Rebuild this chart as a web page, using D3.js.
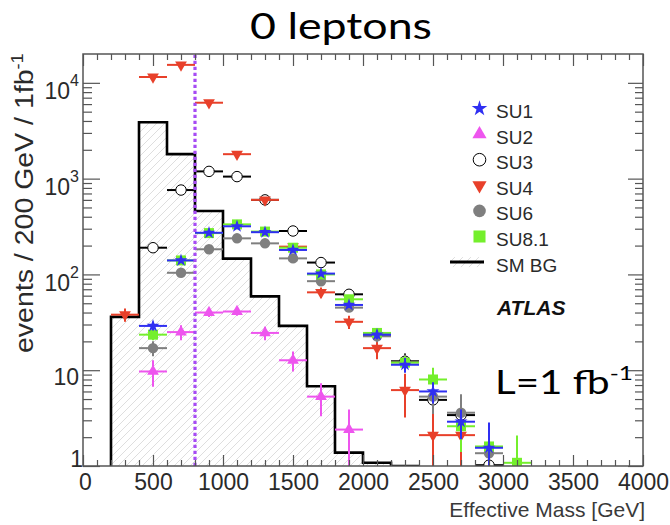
<!DOCTYPE html>
<html>
<head>
<meta charset="utf-8">
<script src="https://cdn.jsdelivr.net/npm/d3@7"></script>
<style>
  body { margin: 0; background: #fff; }
  svg { display: block; }
</style>
</head>
<body>
<svg id="chart" width="670" height="525"></svg>
<script>
// Effective-mass distributions, 0-lepton channel, 200 GeV bins, 1 fb^-1
const binCenters = [300, 500, 700, 900, 1100, 1300, 1500, 1700, 1900, 2100, 2300, 2500, 2700, 2900, 3100];

const su1    = [null, 29, 140, 272, 318, 276, 180, 102, 48, 23.5, 11.4, 6.0, 2.9, 1.55, null];
const su1Err = [null, 3, 6, 8, 9, 8, 7, 5, 3.5, 2.5, 2, 1.5, 1, 1.3, null];

const su2    = [null, 9.7, 25, 40, 41, 24.5, 12.7, 5.3, 2.4, null, null, null, null, null, null];
const su2Err = [null, 3, 4.5, 4, 4, 4, 3, 2, 1.5, null, null, null, null, null, null];

const su3    = [null, 190, 760, 1190, 1050, 600, 284, 133, 62, 23.5, 12.4, 4.9, 3.4, 1.02, null];
const su3Err = [null, 10, 20, 25, 25, 18, 12, 8, 5, 3, 2.5, 2, 2, 1, null];

const su4    = [38, 11500, 15400, 6200, 1800, 600, 195, 65, 32, 17, 6.2, 2.1, 2.1, null, null];
const su4Err = [6, 100, 120, 80, 40, 25, 14, 8, 5, 4, 3, 1.5, 1.5, null, null];

const su6    = [null, 17, 104, 183, 238, 211, 147, 85, 45, 22.6, 12.1, 5.3, 3.6, 1.36, null];
const su6Err = [null, 3, 7, 9, 10, 9, 8, 6, 4, 3, 2.5, 1.8, 2, 1, null];

const su81    = [null, 23.5, 140, 270, 333, 280, 190, 100, 55, 24.5, 12, 8.0, 2.6, 1.6, 1.08];
const su81Err = [null, 3, 6, 8, 9, 8, 7, 5, 4, 3, 2, 2.6, 1.2, 1, 1];

// Standard Model background histogram (bin edges and contents)
const bgEdges  = [200, 400, 600, 800, 1000, 1200, 1400, 1600, 1800, 2000, 2200, 2400];
const bgValues = [36, 3880, 1800, 460, 146, 59, 29, 6.8, 1.38, 1.08, 1.0];

const xTickValues = [0, 500, 1000, 1500, 2000, 2500, 3000, 3500, 4000];
const yTickValues = [1, 10, 100, 1000, 10000];
const legendLabels = ["SU1", "SU2", "SU3", "SU4", "SU6", "SU8.1", "SM BG"];
const cutValue = 800;
const halfBin = 100;

const svg = d3.select("#chart");
const frame = { left: 83, right: 643, top: 54, bottom: 466 };

const x = d3.scaleLinear().domain([0, 4000]).range([frame.left, frame.right]);
const y = d3.scaleLog().domain([1, 2e4]).range([frame.bottom, frame.top]);

const labelFont = "'Liberation Sans', Arial, Helvetica, sans-serif";
const axisColor = "#555";
const textColor = "#2a2a2a";

const defs = svg.append("defs");
defs.append("clipPath").attr("id", "plotClip")
  .append("rect")
  .attr("x", frame.left).attr("y", frame.top)
  .attr("width", frame.right - frame.left).attr("height", frame.bottom - frame.top);

const hatch = defs.append("pattern").attr("id", "hatch")
  .attr("patternUnits", "userSpaceOnUse").attr("width", 8).attr("height", 8);
hatch.append("path")
  .attr("d", "M-1,1 l2,-2 M0,8 l8,-8 M7,9 l2,-2")
  .attr("stroke", "#dedede").attr("stroke-width", 1);

// ---------- background histogram ----------
const plot = svg.append("g").attr("clip-path", "url(#plotClip)");

const histPts = [[x(bgEdges[0]), y(1)]];
bgValues.forEach((v, i) => {
  histPts.push([x(bgEdges[i]), y(v)]);
  histPts.push([x(bgEdges[i + 1]), y(v)]);
});
histPts.push([x(bgEdges[bgEdges.length - 1]), y(1)]);

plot.append("path")
  .attr("d", d3.line()(histPts) + "Z")
  .attr("fill", "url(#hatch)").attr("stroke", "none");
plot.append("path")
  .attr("d", d3.line()(histPts))
  .attr("fill", "none").attr("stroke", "#000").attr("stroke-width", 2.6);

// ---------- cut line ----------
svg.append("line")
  .attr("x1", x(cutValue)).attr("x2", x(cutValue))
  .attr("y1", frame.bottom).attr("y2", frame.top + 1)
  .attr("stroke", "#a64bf4").attr("stroke-width", 3.2)
  .attr("stroke-dasharray", "3.2,2.8");

// ---------- signal points ----------
const symbolDefs = {
  star:    { type: d3.symbolStar, size: 52, rotate: 0 },
  triUp:   { type: d3.symbolTriangle, size: 60, rotate: 0 },
  triDown: { type: d3.symbolTriangle, size: 60, rotate: 180 },
  circle:  { type: d3.symbolCircle, size: 86, rotate: 0 },
  square:  { type: d3.symbolSquare, size: 100, rotate: 0 }
};

const series = {
  SU1:   { values: su1,  errors: su1Err,  symbol: "star",    fill: "#2f2ff2", stroke: "none", bar: "#2f2ff2" },
  SU2:   { values: su2,  errors: su2Err,  symbol: "triUp",   fill: "#ee55ee", stroke: "none", bar: "#ee55ee" },
  SU3:   { values: su3,  errors: su3Err,  symbol: "circle",  fill: "#ffffff", stroke: "#000", bar: "#000" },
  SU4:   { values: su4,  errors: su4Err,  symbol: "triDown", fill: "#e8402a", stroke: "none", bar: "#e8402a" },
  SU6:   { values: su6,  errors: su6Err,  symbol: "circle",  fill: "#7f7f7f", stroke: "none", bar: "#7f7f7f" },
  "SU8.1": { values: su81, errors: su81Err, symbol: "square", fill: "#74ef2c", stroke: "none", bar: "#74ef2c" }
};
const drawOrder = ["SU3", "SU4", "SU2", "SU6", "SU8.1", "SU1"];

function symbolPath(kind, scale) {
  const s = symbolDefs[kind];
  return d3.symbol().type(s.type).size(s.size * (scale || 1))();
}

drawOrder.forEach(name => {
  const s = series[name];
  const pts = binCenters.map((c, i) => ({ c, v: s.values[i], e: s.errors[i] }))
    .filter(p => p.v != null);
  const g = plot.append("g");
  pts.forEach(p => {
    g.append("line")
      .attr("x1", x(p.c - halfBin)).attr("x2", x(p.c + halfBin))
      .attr("y1", y(p.v)).attr("y2", y(p.v))
      .attr("stroke", s.bar).attr("stroke-width", 2);
    const lo = p.v - p.e > 0.5 ? p.v - p.e : 0.5;
    g.append("line")
      .attr("x1", x(p.c)).attr("x2", x(p.c))
      .attr("y1", y(lo)).attr("y2", y(p.v + p.e))
      .attr("stroke", s.bar).attr("stroke-width", 2);
  });
  pts.forEach(p => {
    g.append("path")
      .attr("d", symbolPath(s.symbol))
      .attr("transform", `translate(${x(p.c)},${y(p.v)}) rotate(${symbolDefs[s.symbol].rotate})`)
      .attr("fill", s.fill)
      .attr("stroke", s.stroke).attr("stroke-width", s.stroke === "none" ? 0 : 1);
  });
});

// ---------- axes ----------
const xMinor = d3.range(0, 4001, 100).filter(v => v % 500 !== 0);
const yMinor = [];
for (let k = 0; k <= 4; k++) for (let m = 2; m <= 9; m++) {
  const v = m * Math.pow(10, k);
  if (v < 2e4) yMinor.push(v);
}

function styleAxis(g) {
  g.select(".domain").remove();
  g.selectAll(".tick line").attr("stroke", axisColor).attr("stroke-width", 1.2);
}

svg.append("g").attr("transform", `translate(0,${frame.bottom})`)
  .call(d3.axisBottom(x).tickValues(xMinor).tickSize(-6).tickFormat(""))
  .call(styleAxis);
svg.append("g").attr("transform", `translate(0,${frame.top})`)
  .call(d3.axisTop(x).tickValues(xMinor).tickSize(-6).tickFormat(""))
  .call(styleAxis);
svg.append("g").attr("transform", `translate(0,${frame.top})`)
  .call(d3.axisTop(x).tickValues(xTickValues).tickSize(-12).tickFormat(""))
  .call(styleAxis);

const xAxis = svg.append("g").attr("transform", `translate(0,${frame.bottom})`)
  .call(d3.axisBottom(x).tickValues(xTickValues).tickSize(-11).tickPadding(7).tickFormat(d3.format("d")))
  .call(styleAxis);
xAxis.selectAll(".tick text")
  .attr("font-family", labelFont).attr("font-size", 23).attr("fill", textColor)
  .attr("dy", "0.73em");
xAxis.selectAll(".tick").filter(d => d === 0).select("text").attr("dx", 2);

svg.append("g").attr("transform", `translate(${frame.left},0)`)
  .call(d3.axisLeft(y).tickValues(yMinor).tickSize(-9).tickFormat(""))
  .call(styleAxis);
svg.append("g").attr("transform", `translate(${frame.right},0)`)
  .call(d3.axisRight(y).tickValues(yMinor).tickSize(-8).tickFormat(""))
  .call(styleAxis);
svg.append("g").attr("transform", `translate(${frame.right},0)`)
  .call(d3.axisRight(y).tickValues(yTickValues).tickSize(-15).tickFormat(""))
  .call(styleAxis);

const yAxis = svg.append("g").attr("transform", `translate(${frame.left},0)`)
  .call(d3.axisLeft(y).tickValues(yTickValues).tickSize(-17).tickPadding(4))
  .call(styleAxis);
yAxis.selectAll(".tick text").each(function (d) {
  const t = d3.select(this).text(null)
    .attr("font-family", labelFont).attr("font-size", 23).attr("fill", textColor);
  const k = Math.round(Math.log10(d));
  if (k === 0) {
    t.attr("dy", 0).attr("x", 0).text("1");
  } else if (k === 1) {
    t.attr("dy", 14).text("10");
  } else {
    t.attr("dy", 16);
    t.append("tspan").text("10");
    t.append("tspan").attr("dy", -13).attr("font-size", 16).text(k);
  }
});

// frame
svg.append("rect")
  .attr("x", frame.left).attr("y", frame.top)
  .attr("width", frame.right - frame.left).attr("height", frame.bottom - frame.top)
  .attr("fill", "none").attr("stroke", axisColor).attr("stroke-width", 1.5);

// ---------- texts ----------
function fitWidth(sel, target, x0, y0) {
  const w = sel.node().getBBox().width;
  const s = target / w;
  sel.attr("transform", `translate(${x0},${y0}) scale(${s},1) translate(${-x0},${-y0})`);
}

const title = svg.append("text")
  .attr("x", 250).attr("y", 39)
  .attr("font-family", "Lato, 'Open Sans', sans-serif").attr("font-size", 37)
  .attr("fill", "#000").text("0 leptons");
fitWidth(title, 182, 250, 39);

const yTitle = svg.append("text")
  .attr("transform", "rotate(-90)")
  .attr("font-family", labelFont).attr("font-size", 25).attr("fill", textColor);
yTitle.append("tspan").text("events / 200 GeV / 1fb");
yTitle.append("tspan").attr("dy", -10).attr("font-size", 16).text("-1");
{
  const w = yTitle.node().getBBox().width;
  const s = 300 / w;
  yTitle.attr("transform", `translate(33,353) rotate(-90) scale(${s},1)`);
}

svg.append("text")
  .attr("x", 645).attr("y", 517).attr("text-anchor", "end")
  .attr("font-family", labelFont).attr("font-size", 21).attr("fill", "#3a3a3a")
  .text("Effective Mass [GeV]");

svg.append("text")
  .attr("x", 497).attr("y", 315)
  .attr("font-family", labelFont).attr("font-size", 21)
  .attr("font-weight", "bold").attr("font-style", "italic").attr("fill", "#111")
  .text("ATLAS");

const lumi = svg.append("text")
  .attr("x", 495).attr("y", 394)
  .attr("font-family", "Lato, 'Open Sans', sans-serif").attr("font-size", 33)
  .attr("fill", "#000");
lumi.append("tspan").text("L=1 fb");
lumi.append("tspan").attr("dy", -14).attr("font-size", 20).text("-1");
fitWidth(lumi, 138, 495, 394);

// ---------- legend ----------
const legend = svg.append("g");
legendLabels.forEach((label, i) => {
  const base = 118 + i * 25.6;
  const my = base - 9.5;
  if (series[label]) {
    const s = series[label];
    legend.append("path")
      .attr("d", symbolPath(s.symbol, 1.45))
      .attr("transform", `translate(479.5,${my}) rotate(${symbolDefs[s.symbol].rotate})`)
      .attr("fill", s.fill)
      .attr("stroke", s.stroke).attr("stroke-width", s.stroke === "none" ? 0 : 1);
  } else {
    legend.append("rect")
      .attr("x", 450).attr("y", my - 5).attr("width", 34).attr("height", 10)
      .attr("fill", "url(#hatch)");
    legend.append("line")
      .attr("x1", 450).attr("x2", 484).attr("y1", my).attr("y2", my)
      .attr("stroke", "#000").attr("stroke-width", 3);
  }
  legend.append("text")
    .attr("x", 496).attr("y", base)
    .attr("font-family", labelFont).attr("font-size", 19).attr("fill", textColor)
    .text(label);
});
</script>
</body>
</html>
